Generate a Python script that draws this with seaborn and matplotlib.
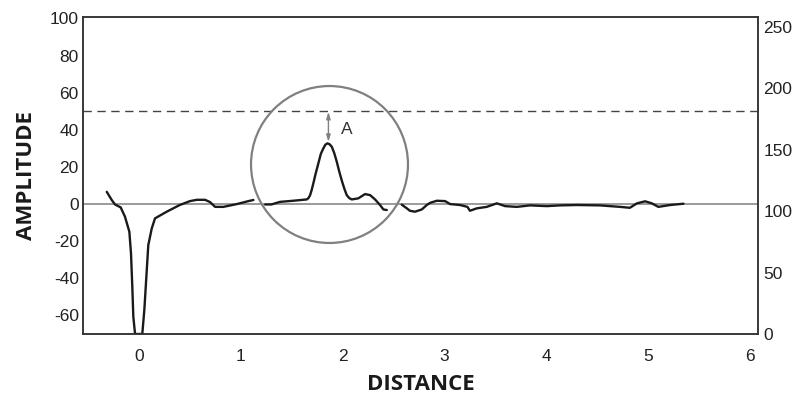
import numpy as np
import pandas as pd
import matplotlib
matplotlib.use("Agg")
import matplotlib.pyplot as plt
import seaborn as sns

# Trace, split into the three drawn pieces
seg1_x = [-0.317, -0.268, -0.236, -0.18, -0.138, -0.095, -0.079, -0.066, -0.056, -0.039,
          0.032, 0.052, 0.076, 0.091, 0.125, 0.157, 0.272, 0.40, 0.50, 0.567,
          0.648, 0.697, 0.747, 0.828, 0.96, 1.074, 1.123]
seg1_y = [6.6, 2.2, -0.2, -1.8, -6.8, -14.9, -26.4, -44.6, -60.7, -70.0,
          -70.0, -57.1, -35.6, -22.1, -13.1, -7.7, -4.1, -0.5, 1.6, 2.3,
          2.3, 1.1, -1.5, -1.5, 0.0, 1.6, 2.2]

seg2_x = [1.238, 1.30, 1.385, 1.516, 1.647, 1.665, 1.68, 1.695, 1.712, 1.735,
          1.761, 1.785, 1.81, 1.83, 1.85, 1.87, 1.893, 1.917, 1.942, 1.965,
          1.99, 2.015, 2.04, 2.065, 2.09, 2.154, 2.22, 2.27, 2.318, 2.367,
          2.40, 2.433]
seg2_y = [-0.2, -0.2, 1.2, 1.8, 2.5, 3.3, 4.8, 7.5, 11.2, 16.5,
          21.9, 27.0, 30.0, 32.0, 32.7, 32.3, 30.9, 27.5, 22.8, 17.8,
          12.9, 8.5, 4.8, 3.2, 2.5, 3.1, 5.4, 4.8, 2.5, -0.5,
          -2.9, -3.2]

seg3_x = [2.58, 2.63, 2.66, 2.71, 2.777, 2.826, 2.86, 2.925, 3.006, 3.055,
          3.153, 3.225, 3.25, 3.317, 3.415, 3.514, 3.595, 3.71, 3.84, 4.005,
          4.136, 4.30, 4.528, 4.725, 4.82, 4.89, 4.97, 5.036, 5.10, 5.216, 5.347]
seg3_y = [-0.3, -2.3, -3.6, -4.1, -2.9, -0.5, 0.7, 1.8, 1.6, 0.0,
          -0.5, -1.5, -3.6, -2.3, -1.5, 0.4, -1.1, -1.5, -0.7, -1.1,
          -0.7, -0.5, -0.7, -1.5, -2.0, 0.4, 1.5, 0.4, -1.5, -0.5, 0.2]

threshold = 50
peak_x, peak_y = 1.86, 32.7
circle_x, circle_y = 1.861, 21.7

x_ticks = [0, 1, 2, 3, 4, 5, 6]
left_ticks = [-60, -40, -20, 0, 20, 40, 60, 80, 100]
right_ticks = [0, 50, 100, 150, 200, 250]

df = pd.concat([
    pd.DataFrame({"distance": seg1_x, "amplitude": seg1_y, "seg": 1}),
    pd.DataFrame({"distance": seg2_x, "amplitude": seg2_y, "seg": 2}),
    pd.DataFrame({"distance": seg3_x, "amplitude": seg3_y, "seg": 3}),
])

sns.set_style("white")
plt.rcParams["font.family"] = ["Liberation Sans", "DejaVu Sans"]
plt.rcParams["axes.unicode_minus"] = False

fig = plt.figure(figsize=(7.96, 3.99), dpi=100)
ax = fig.add_axes([0.1043, 0.1629, 0.8480, 0.7945])

# zero line and threshold line
ax.axhline(0, color="#808080", lw=1.1, zorder=1)
ax.axhline(threshold, color="#444444", lw=1.0, ls=(0, (6, 4)), zorder=1)

sns.lineplot(data=df, x="distance", y="amplitude", units="seg", estimator=None,
             color="#1a1a1a", lw=1.7, ax=ax, zorder=3, sort=False)

# circle around the peak
ax.plot([circle_x], [circle_y], marker="o", ms=113, mfc="none", mec="#808080",
        mew=1.6, zorder=2, clip_on=False)

# amplitude arrow
ax.annotate("", xy=(peak_x, peak_y + 0.8), xytext=(peak_x, threshold - 0.3),
            arrowprops=dict(arrowstyle="<|-|>,head_length=0.4,head_width=0.12",
                            color="#808080", lw=1.0, shrinkA=0, shrinkB=0))
ax.text(2.04, 40.4, "A", fontsize=12.5, color="#333333", ha="center", va="center")

ax.set_xlim(-0.55, 6.079)
ax.set_ylim(-70, 100.8)
ax.set_xticks(x_ticks)
ax.set_yticks(left_ticks)
ax.tick_params(axis="x", length=0, pad=11, labelsize=12.5, labelcolor="#222222")
ax.tick_params(axis="y", length=0, pad=3, labelsize=12.5, labelcolor="#222222")

ax2 = ax.twinx()
ax2.set_ylim(0, 258)
ax2.set_yticks(right_ticks)
ax2.tick_params(axis="y", length=0, pad=4, labelsize=12.5, labelcolor="#222222")

for a in (ax, ax2):
    for s in a.spines.values():
        s.set_color("#333333")
        s.set_linewidth(1.1)

ax.set_xlabel("DISTANCE", fontsize=16, fontweight="bold", family="Open Sans", color="#1a1a1a")
ax.set_ylabel("AMPLITUDE", fontsize=16, fontweight="bold", family="Open Sans", color="#1a1a1a")
ax.xaxis.set_label_coords(0.5, -0.125)
ax.yaxis.set_label_coords(-0.068, 0.5)

fig.savefig("out.png", dpi=100)
